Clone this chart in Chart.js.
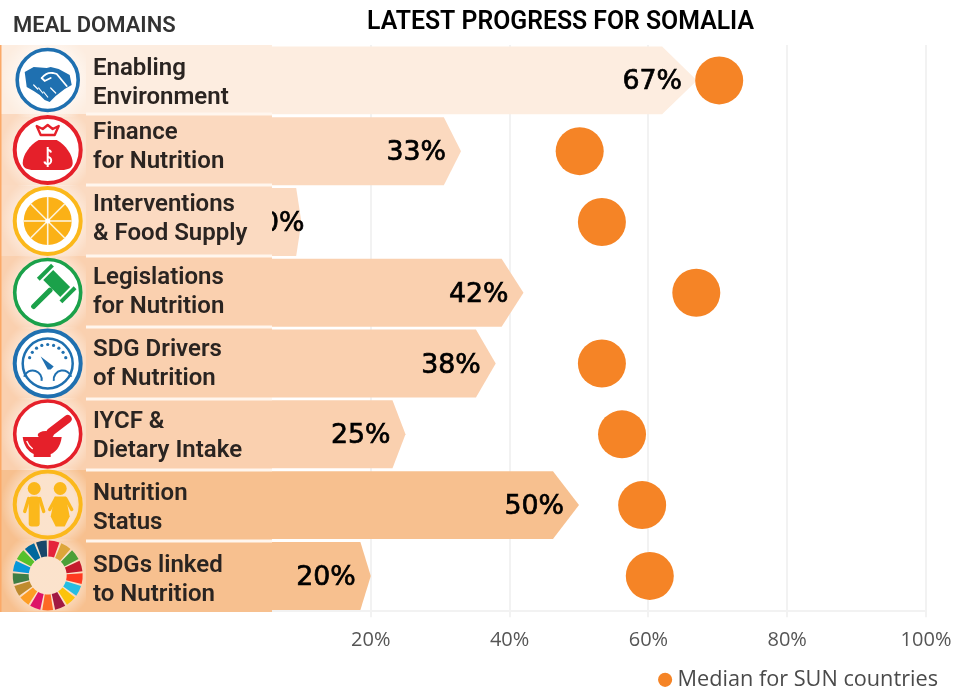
<!DOCTYPE html>
<html><head><meta charset="utf-8">
<style>html,body{margin:0;padding:0;background:#fff}canvas{display:block}</style>
<script src="https://cdn.jsdelivr.net/npm/chart.js@4/dist/chart.umd.js"></script>
</head><body><div style="width:956px;height:688px"><canvas id="c" width="956" height="688"></canvas></div>
<script>
const domains = [['Enabling','Environment'],['Finance','for Nutrition'],['Interventions','& Food Supply'],['Legislations','for Nutrition'],['SDG Drivers','of Nutrition'],['IYCF &','Dietary Intake'],['Nutrition','Status'],['SDGs linked','to Nutrition']];
const somaliaProgress = [67,33,10,42,38,25,50,20];
const sunMedian = [70.2,50.1,53.3,66.9,53.3,56.2,59.1,60.2];
const rowColors = ['#FDEDE0','#FBD9BF','#FBDAC1','#FAD0AF','#FAD0AF','#FAD0AF','#F7C08F','#F7C08F'];
const axisTicks = [20,40,60,80,100];
const titleText = 'LATEST PROGRESS FOR SOMALIA';
const panelTitle = 'MEAL DOMAINS';
const legendText = 'Median for SUN countries';
const ORANGE = '#F58426';

// Chevron-shaped horizontal bars, drawn from the library's own element geometry
Chart.BarElement.prototype.draw = function (ctx) {
  const {x, y, base, height} = this.getProps(['x','y','base','height'], true);
  const tip = (x - base) * 0.075, h = height / 2;
  ctx.save();
  ctx.fillStyle = this.options.backgroundColor;
  ctx.beginPath();
  ctx.moveTo(base, y - h); ctx.lineTo(x - tip, y - h); ctx.lineTo(x, y);
  ctx.lineTo(x - tip, y + h); ctx.lineTo(base, y + h); ctx.closePath();
  ctx.fill();
  ctx.restore();
};

const BLUE='#1F70B0', RED='#E5202A', GOLD='#FBB81B', GREEN='#1BA14A', TXT='#2A2421';
const SDG=['#E5243B','#DDA63A','#4C9F38','#C5192D','#FF3A21','#26BDE2','#FCC30B','#A21942','#FD6925','#DD1367','#FD9D24','#BF8B2E','#3F7E44','#0A97D9','#56C02B','#00689D','#19486A'];
function ring(c,col,r,w,fill){c.beginPath();c.arc(0,0,r,0,Math.PI*2);if(fill){c.fillStyle=fill;c.fill();}c.strokeStyle=col;c.lineWidth=w;c.stroke();}
function poly(c,pts){c.beginPath();pts.forEach((p,i)=>i?c.lineTo(p[0],p[1]):c.moveTo(p[0],p[1]));c.closePath();}
const icons=[
 c=>{ring(c,BLUE,30.5,3.6,'#fff');c.fillStyle=BLUE;
   poly(c,[[-23,-8],[-14,-13],[-1,-12],[3,-13],[11,-11],[22,-5],[24,5],[17,9],[8,16],[2,22],[-3,20],[-8,15],[-14,11],[-21,7]]);c.fill();
   c.strokeStyle='#fff';c.lineWidth=1.8;c.lineCap='round';c.beginPath();c.moveTo(-6,-2);c.quadraticCurveTo(-1,-8,5,-7);c.lineTo(9,-6);c.lineTo(19,6);c.stroke();
   c.beginPath();c.moveTo(-6,-2);c.lineTo(-3,1);c.lineTo(3,-2);c.stroke();
   c.lineWidth=1.2;[[-14,5,-10,9],[-9,8,-5,13],[-4,12,0,17],[3,8,8,13]].forEach(a=>{c.beginPath();c.moveTo(a[0],a[1]);c.lineTo(a[2],a[3]);c.stroke();});},
 c=>{ring(c,RED,33,4,'#fff');c.fillStyle=RED;c.beginPath();c.moveTo(-9,-10);c.bezierCurveTo(-18,-5,-25,5,-25,13);c.bezierCurveTo(-25,18,-20,20,-14,20);c.lineTo(14,20);c.bezierCurveTo(20,20,25,18,25,13);c.bezierCurveTo(25,5,18,-5,9,-10);c.closePath();c.fill();
   c.strokeStyle=RED;c.lineWidth=2.4;c.lineJoin='round';poly(c,[[-11,-24],[-5,-21],[0,-25],[5,-21],[11,-24],[7,-15],[-7,-15]]);c.stroke();
   c.strokeStyle='#fff';c.lineWidth=2;c.beginPath();c.arc(0,3.5,3.5,-0.3,Math.PI*1.5,true);c.stroke();c.beginPath();c.arc(0,10.5,3.5,-Math.PI/2,Math.PI-0.3);c.stroke();c.beginPath();c.moveTo(0,-3);c.lineTo(0,17);c.stroke();},
 c=>{ring(c,GOLD,33,4,'#fff');c.fillStyle='#FBB116';c.beginPath();c.arc(0,0,24,0,Math.PI*2);c.fill();c.strokeStyle='#FDF3DC';c.lineWidth=1.6;for(let i=0;i<8;i++){const a=i*Math.PI/4;c.beginPath();c.moveTo(0,0);c.lineTo(24*Math.cos(a),24*Math.sin(a));c.stroke();}c.fillStyle='#fff';c.beginPath();c.arc(0,0,2.5,0,Math.PI*2);c.fill();},
 c=>{ring(c,GREEN,33,3.6,'#fff');c.save();c.translate(9,-9);c.rotate(Math.PI/4);c.fillStyle=GREEN;c.fillRect(-12,-7,24,14);c.fillRect(-18,-10,4,20);c.fillRect(14,-10,4,20);c.beginPath();c.roundRect(-2.5,7,5,28,2);c.fill();c.restore();},
 c=>{ring(c,BLUE,33,4,'#fff');c.strokeStyle=BLUE;c.lineWidth=2.5;c.beginPath();c.arc(0,0,25,0,Math.PI*2);c.stroke();c.fillStyle=BLUE;for(let i=0;i<9;i++){const a=Math.PI*(1.1+i*0.1);c.beginPath();c.arc(19*Math.cos(a),19*Math.sin(a),1.6,0,Math.PI*2);c.fill();}
   poly(c,[[-7,-7],[6,3],[3,6],[0,6]]);c.fill();c.lineWidth=2;c.beginPath();c.arc(-15,16,9,Math.PI*1.1,Math.PI*0.05);c.stroke();c.beginPath();c.arc(15,16,9,Math.PI*0.95,Math.PI*1.9);c.stroke();},
 c=>{ring(c,RED,33,3.6,'#fff');c.strokeStyle=RED;c.lineCap='round';c.lineWidth=8;c.beginPath();c.moveTo(20,-15);c.lineTo(3,-2);c.stroke();c.fillStyle=RED;c.beginPath();c.ellipse(-2,1,8,4,0,0,Math.PI*2);c.fill();
   c.beginPath();c.moveTo(-25,3);c.lineTo(14,3);c.bezierCurveTo(13,13,7,19,3,20);c.lineTo(3,23);c.lineTo(-14,23);c.lineTo(-14,20);c.bezierCurveTo(-19,18,-24,12,-25,3);c.fill();
   c.strokeStyle='#fff';c.lineWidth=1.4;c.lineCap='butt';c.beginPath();c.moveTo(-21,7);c.quadraticCurveTo(-19,12,-15,15);c.stroke();},
 c=>{ring(c,GOLD,33,4,null);c.fillStyle=GOLD;c.strokeStyle=GOLD;c.lineCap='round';
   [[-13.5,-16],[12.5,-16]].forEach(p=>{c.beginPath();c.arc(p[0],p[1],6.5,0,Math.PI*2);c.fill();});
   c.beginPath();c.roundRect(-19,-8,11,30,3);c.fill();c.lineWidth=3.4;c.beginPath();c.moveTo(-19,-6);c.lineTo(-23,7);c.stroke();c.beginPath();c.moveTo(-8,-6);c.lineTo(-4,7);c.stroke();
   poly(c,[[7,-8],[18,-8],[22,12],[17,22],[8,22],[3,12]]);c.fill();c.beginPath();c.moveTo(8,-6);c.lineTo(2,5);c.stroke();c.beginPath();c.moveTo(18,-6);c.lineTo(24,5);c.stroke();},
 c=>{const n=SDG.length;SDG.forEach((col,i)=>{const a0=-Math.PI/2+i*2*Math.PI/n+0.03,a1=-Math.PI/2+(i+1)*2*Math.PI/n-0.03;c.fillStyle=col;c.beginPath();c.arc(0,0,35,a0,a1);c.arc(0,0,19,a1,a0,true);c.closePath();c.fill();});}
];
const panelEdges=[45,114,185,256,327,399,470,541,612];
const iconY=[80,150,221,292.5,363.5,434,504.5,575.5];
const textY=[[69,98],[133,162],[205,234],[278,307],[350,379],[422,451],[494,523],[566,595]];

const progressLabels={id:'progressLabels',afterDatasetsDraw(chart){
  const c=chart.ctx,m=chart.getDatasetMeta(1);
  c.save();c.fillStyle='#000';c.strokeStyle='#000';c.lineWidth=0.7;c.font='500 26.8px "DejaVu Sans"';c.textAlign='right';c.textBaseline='middle';
  m.data.forEach((b,i)=>{const s=somaliaProgress[i]+'%';
    const rx=somaliaProgress[i]<15?b.x+3:b.x-15;c.fillText(s,rx,b.y+2);c.strokeText(s,rx,b.y+2);});
  c.restore();
}};
const panel={id:'panel',afterDatasetsDraw(chart){
  const c=chart.ctx;c.save();
  rowColors.forEach((col,i)=>{c.fillStyle=col;c.fillRect(0,panelEdges[i],272,panelEdges[i+1]-panelEdges[i]);});
  c.fillStyle='#FBA968';c.fillRect(0,45,1.5,567);
  iconY.forEach((y,i)=>{const g=c.createRadialGradient(47.7,y,28,47.7,y,47);g.addColorStop(0,'rgba(255,255,255,0.55)');g.addColorStop(1,'rgba(255,255,255,0)');c.save();c.beginPath();c.rect(2,Math.max(45,y-36),84,72);c.clip();c.fillStyle=g;c.fillRect(0,y-47,100,94);c.restore();});
  for(let i=1;i<8;i++){c.fillStyle='#FFF6EE';c.fillRect(86,panelEdges[i]-1.5,186,3);}
  iconY.forEach((y,i)=>{c.save();c.translate(47.7,y);icons[i](c);c.restore();});
  c.fillStyle=TXT;c.font='600 24px Roboto';c.textAlign='left';c.textBaseline='middle';
  domains.forEach((lines,i)=>lines.forEach((t,j)=>c.fillText(t,93,textY[i][j])));
  c.fillStyle='#333';c.font='600 22px Roboto';c.fillText(panelTitle,13,26);
  c.restore();
}};
const placeBlocks={id:'placeBlocks',beforeDraw(chart){
  const t=chart.titleBlock;if(t){t.left=367;t.right=754;t.top=8;}
  const l=chart.legend;if(l){l.right=943;l.top=664;}
}};

new Chart(document.getElementById('c'),{
  type:'bar',
  data:{labels:domains.map(d=>d.join(' ')),datasets:[
    {type:'line',indexAxis:'y',label:legendText,data:sunMedian,showLine:false,pointRadius:24,pointHoverRadius:24,pointStyle:'circle',pointBackgroundColor:ORANGE,pointBorderWidth:0,backgroundColor:ORANGE,borderColor:ORANGE,borderWidth:0,order:1},
    {label:'Latest progress',data:somaliaProgress,backgroundColor:rowColors,barPercentage:0.96,categoryPercentage:1,order:2}
  ]},
  options:{
    indexAxis:'y',responsive:false,animation:false,
    layout:{padding:{left:232,right:30,top:10,bottom:0}},
    plugins:{
      title:{display:true,text:titleText,color:'#000',font:{family:'Roboto',size:25,weight:'600'},padding:{top:0,bottom:5}},
      legend:{display:true,position:'bottom',align:'end',
        labels:{usePointStyle:true,boxWidth:3,boxHeight:10,color:'#4a4a4a',font:{family:'"Open Sans"',size:21.7},padding:5,filter:i=>i.text===legendText}},
      tooltip:{enabled:false}
    },
    scales:{
      x:{type:'linear',min:0,max:100,afterBuildTicks(a){a.ticks=axisTicks.map(v=>({value:v}));},
        afterFit(s){s.paddingRight=0;s.paddingLeft=0;s.height=40;},
        grid:{color:'#F2F2F2',lineWidth:2,tickLength:6,drawTicks:true},
        border:{display:true,color:'#F2F2F2',width:2},
        ticks:{maxRotation:0,autoSkip:false,padding:11,color:'#555',font:{family:'"Open Sans"',size:20},callback:v=>v+'%'}},
      y:{type:'category',display:false}
    }
  },
  plugins:[placeBlocks,progressLabels,panel]
});
</script></body></html>
